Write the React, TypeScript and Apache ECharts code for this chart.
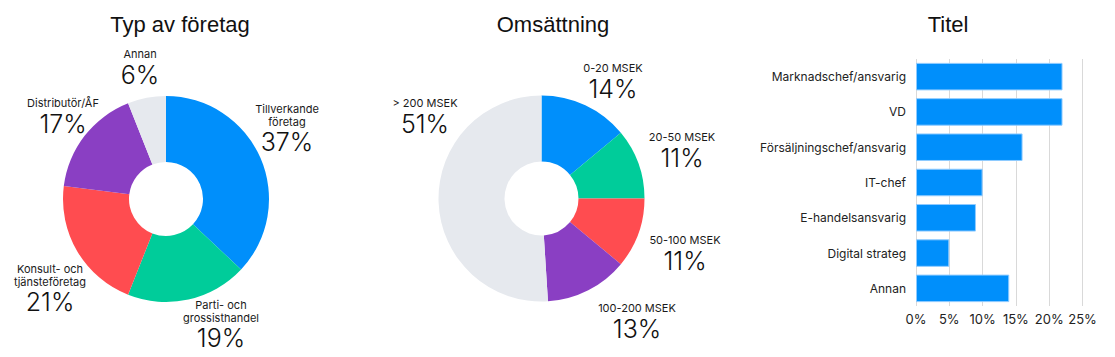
import React, { useEffect, useRef } from "react";
import * as echarts from "echarts";

// ---- Data ----
const companyTypes = ["Tillverkande\nföretag", "Parti- och\ngrossisthandel", "Konsult- och\ntjänsteföretag", "Distributör/ÅF", "Annan"];
const companyValues = [37, 19, 21, 17, 6];

const revenueBands = ["0-20 MSEK", "20-50 MSEK", "50-100 MSEK", "100-200 MSEK", "> 200 MSEK"];
const revenueValues = [14, 11, 11, 13, 51];

const titles = ["Marknadschef/ansvarig", "VD", "Försäljningschef/ansvarig", "IT-chef", "E-handelsansvarig", "Digital strateg", "Annan"];
const titleValues = [22, 22, 16, 10, 9, 5, 14];

const xTicks = [0, 5, 10, 15, 20, 25];

// ---- Style / layout ----
const palette = ["#008ffb", "#00cc9a", "#ff4c50", "#8a3fc3", "#e6e9ee"];
const pie1LabelPos = [[287, 129], [221, 325], [50, 289], [63, 117], [140, 68]];
const pie2LabelPos = [[613, 82], [682, 151], [685, 254], [637, 322], [425, 117]];

const FONT = "Inter, 'Noto Sans', sans-serif";

function labelFormatter(p: any) {
  const lines = String(p.name).split("\n").map((l: string) => `{n|${l}}`);
  return lines.join("\n") + `\n{p|${p.value}%}`;
}

const richLabel = {
  n: { fontSize: 11, lineHeight: 13, color: "#1a1a1a", fontFamily: FONT, align: "center" },
  p: { fontSize: 25, lineHeight: 28, color: "#111", fontFamily: FONT, fontWeight: 300, align: "center" },
};

function pieSeries(names: string[], values: number[], center: [number, number], pos: number[][]) {
  return {
    type: "pie",
    center,
    radius: [37, 103],
    startAngle: 90,
    clockwise: true,
    avoidLabelOverlap: false,
    data: names.map((n, i) => ({ name: n, value: values[i], itemStyle: { color: palette[i] } })),
    label: {
      show: true,
      position: "outside",
      formatter: labelFormatter,
      rich: richLabel,
      align: "center",
    },
    labelLine: { show: false },
    labelLayout: (params: any) => ({
      x: pos[params.dataIndex][0],
      y: pos[params.dataIndex][1],
      align: "center",
      verticalAlign: "middle",
    }),
    emphasis: { disabled: true },
  };
}

export default function App() {
  const ref = useRef<HTMLDivElement>(null);
  useEffect(() => {
    document.body.style.margin = "0";
    const chart = echarts.init(ref.current!, undefined, { renderer: "svg" });
    const titleStyle = { fontSize: 22, fontWeight: "normal", color: "#111", fontFamily: "'Liberation Sans', Arial, sans-serif" };
    chart.setOption({
      animation: false,
      textStyle: { fontFamily: FONT },
      title: [
        { text: "Typ av företag", left: 175, top: 8, textAlign: "center", textStyle: titleStyle },
        { text: "Omsättning", left: 548, top: 8, textAlign: "center", textStyle: titleStyle },
        { text: "Titel", left: 943, top: 8, textAlign: "center", textStyle: titleStyle },
      ],
      grid: { left: 916, top: 59, width: 166.5, height: 247, containLabel: false },
      xAxis: {
        type: "value",
        min: xTicks[0],
        max: xTicks[xTicks.length - 1],
        interval: 5,
        axisLine: { show: false },
        axisTick: { show: false },
        splitLine: { show: true, lineStyle: { color: "#d9d9d9", width: 1 } },
        axisLabel: { formatter: "{value}%", fontSize: 13, color: "#222", margin: 6, fontFamily: FONT },
      },
      yAxis: {
        type: "category",
        inverse: true,
        data: titles,
        axisLine: { show: false },
        axisTick: { show: false },
        axisLabel: { fontSize: 12, color: "#222", margin: 10, fontFamily: FONT },
      },
      series: [
        pieSeries(companyTypes, companyValues, [166, 199], pie1LabelPos),
        pieSeries(revenueBands, revenueValues, [541.5, 198.5], pie2LabelPos),
        {
          type: "bar",
          data: titleValues,
          barCategoryGap: "22%",
          itemStyle: { color: "#008ffb", borderColor: "#8fcbff", borderWidth: 1 },
          emphasis: { disabled: true },
        },
      ],
    });
    return () => chart.dispose();
  }, []);
  return <div ref={ref} style={{ width: 1115, height: 357 }} />;
}
